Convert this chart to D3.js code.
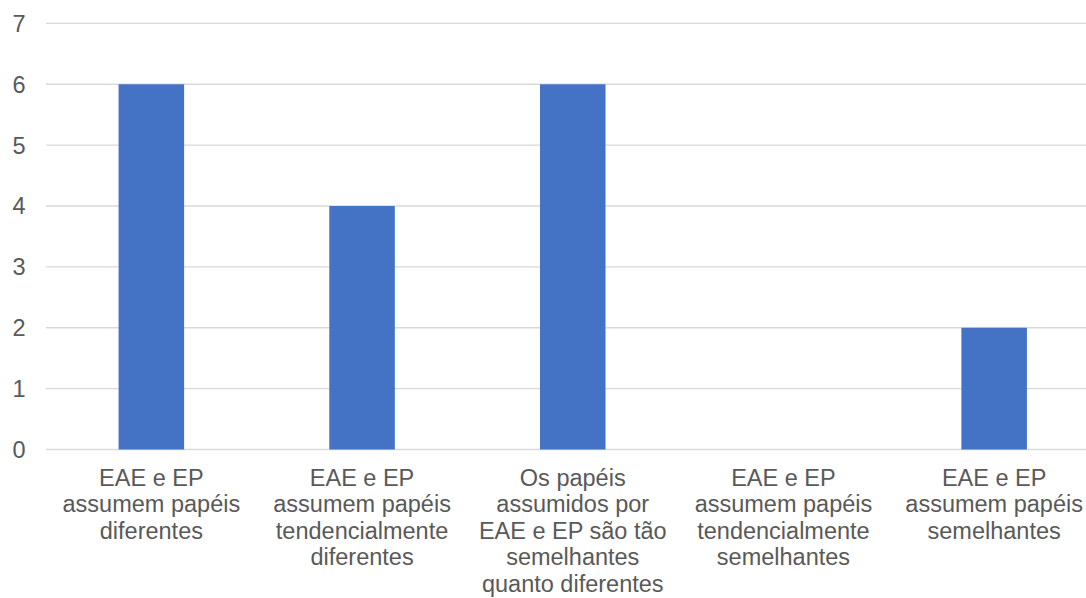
<!DOCTYPE html>
<html>
<head>
<meta charset="utf-8">
<script src="https://cdn.jsdelivr.net/npm/d3@7"></script>
<style>
  html, body { margin: 0; padding: 0; background: #ffffff; }
  svg { display: block; }
  text { font-family: "Liberation Sans", Arial, sans-serif; fill: #595959; }
</style>
</head>
<body>
<svg id="chart" width="1086" height="598"></svg>
<script>
// Category labels (line breaks as drawn under each bar)
const categories = [
  "EAE e EP\nassumem papéis\ndiferentes",
  "EAE e EP\nassumem papéis\ntendencialmente\ndiferentes",
  "Os papéis\nassumidos por\nEAE e EP são tão\nsemelhantes\nquanto diferentes",
  "EAE e EP\nassumem papéis\ntendencialmente\nsemelhantes",
  "EAE e EP\nassumem papéis\nsemelhantes"
];
const values = [6, 4, 6, 0, 2];
const yTicks = [0, 1, 2, 3, 4, 5, 6, 7];

const svg = d3.select("#chart");

const x = d3.scaleBand()
  .domain(categories)
  .range([46, 1099.5])
  .paddingInner(0.689)
  .paddingOuter(0.3445);

const y = d3.scaleLinear()
  .domain([0, 7])
  .range([449.5, 23.4]);

// Horizontal gridlines
svg.append("g")
  .selectAll("line")
  .data(yTicks)
  .join("line")
  .attr("x1", 46)
  .attr("x2", 1099.5)
  .attr("y1", d => y(d))
  .attr("y2", d => y(d))
  .attr("stroke", "#d9d9d9")
  .attr("stroke-width", 1.3);

// Y axis labels
svg.append("g")
  .selectAll("text")
  .data(yTicks)
  .join("text")
  .attr("x", 25.5)
  .attr("y", d => y(d))
  .attr("dy", "0.36em")
  .attr("text-anchor", "end")
  .attr("font-size", 23.5)
  .text(d => d);

// Bars
svg.append("g")
  .selectAll("rect")
  .data(values)
  .join("rect")
  .attr("x", (d, i) => x(categories[i]))
  .attr("width", x.bandwidth())
  .attr("y", d => y(d))
  .attr("height", d => y(0) - y(d))
  .attr("fill", "#4472c4");

// Category labels
const lineH = 26.5;
const labels = svg.append("g")
  .selectAll("text")
  .data(categories)
  .join("text")
  .attr("text-anchor", "middle")
  .attr("font-size", 23.5)
  .attr("transform", d => `translate(${x(d) + x.bandwidth() / 2},485.5)`);

labels.selectAll("tspan")
  .data(d => d.split("\n"))
  .join("tspan")
  .attr("x", 0)
  .attr("y", (d, i) => i * lineH)
  .text(d => d);
</script>
</body>
</html>
